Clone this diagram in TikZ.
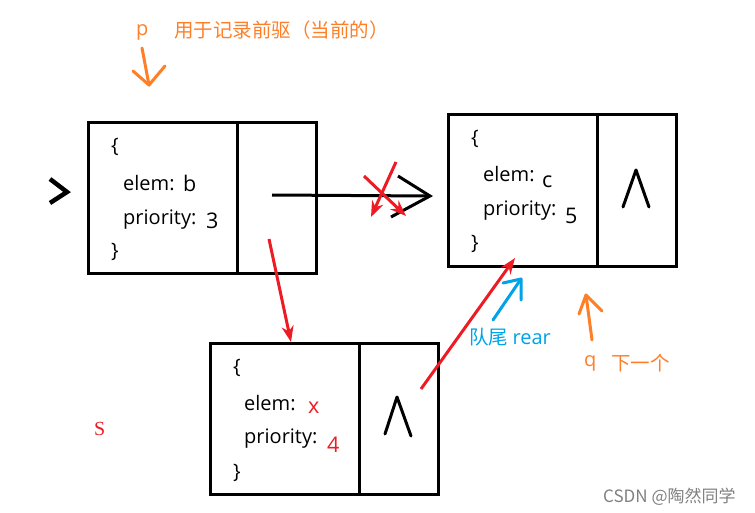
\documentclass[tikz,border=0pt]{standalone}
\usepackage{fontspec}
\setmainfont{Open Sans}
\newfontfamily\cjk{Noto Sans CJK SC}
\newfontfamily\serifS{Liberation Serif}
\usetikzlibrary{arrows.meta}
\definecolor{pred}{HTML}{ED1C24}
\definecolor{porange}{HTML}{FF7F27}
\definecolor{pblue}{HTML}{00A2E8}
\begin{document}
\begin{tikzpicture}[x=1pt,y=-1pt,
  box/.style={draw=black,line width=3pt,minimum width=228pt,minimum height=150pt,inner sep=0pt},
  txt/.style={anchor=base west,inner sep=0pt,font=\fontsize{20}{20}\selectfont},
  val/.style={anchor=base west,inner sep=0pt,font=\fontsize{21.5}{21.5}\selectfont},
  ctxt/.style={anchor=base west,inner sep=0pt,font=\cjk\fontsize{19.5}{19.5}\selectfont},
  redarr/.style={draw=pred,line width=3pt,-{Stealth[length=16pt,width=12pt]}},
  hand/.style={line width=3pt,line cap=round,line join=round}]
\useasboundingbox (0,0) rectangle (755,513);

% boxes
\node[box] (B) at (202,198) {};
\node[box,minimum height=151pt] (C) at (562,190.5) {};
\node[box,minimum height=151pt] (X) at (324,418.5) {};
\draw[line width=3pt] (237,123) -- (237,273);
\draw[line width=3pt] (597,115) -- (597,266);
\draw[line width=3pt] (359,343) -- (359,494);

% box B text
\node[txt] (b1) at (111,153) {\{};
\node[txt] (b2) at (123,191) {elem:};
\node[val] (b3) at (183,192) {b};
\node[txt] (b4) at (123,225) {priority:};
\node[val] (b5) at (206,229) {3};
\node[txt] (b6) at (111,258) {\}};

% box C text
\node[txt] (c1) at (471,145) {\{};
\node[txt] (c2) at (483,182) {elem:};
\node[val] (c3) at (542,188) {c};
\node[txt] (c4) at (483,216) {priority:};
\node[val] (c5) at (565,224) {5};
\node[txt] (c6) at (471,250) {\}};

% box X text
\node[txt] (x1) at (233,373) {\{};
\node[txt] (x2) at (244,410) {elem:};
\node[val,text=pred] (x3) at (308,413) {x};
\node[txt] (x4) at (244,443) {priority:};
\node[val,text=pred] (x5) at (327,452) {4};
\node[txt] (x6) at (233,478) {\}};

% null marks
\draw[hand] (623,207) -- (636,170) -- (649,207);
\draw[hand] (385,434) -- (397,397) -- (411,436);

% left >
\draw[line width=4.5pt,line join=miter] (50,179) -- (67,192) -- (50,203);

% black arrow
\coordinate (kS) at (272,195);
\coordinate (kT) at (430,196);
\coordinate (kU) at (398,176);
\coordinate (kD) at (391,217);
\draw[line width=3pt] (kS) -- (kT);
\draw[line width=3pt] (kU) -- (kT) -- (kD);

% red arrows
\coordinate (r1s) at (396,162); \coordinate (r1e) at (371,217);
\coordinate (r2s) at (364,176); \coordinate (r2e) at (406,216);
\coordinate (r3s) at (269,239); \coordinate (r3e) at (291,342);
\coordinate (r4s) at (421,389); \coordinate (r4e) at (515,258);
\draw[redarr] (r1s) -- (r1e);
\draw[redarr] (r2s) -- (r2e);
\draw[redarr] (r3s) -- (r3e);
\draw[redarr] (r4s) -- (r4e);

% p arrow and label
\node[anchor=base west,inner sep=0pt,text=porange,font=\fontsize{20}{20}\selectfont] (p) at (136,36) {p};
\node[ctxt,text=porange] (pl) at (174,38) {用于记录前驱（当前的）};
\coordinate (pA) at (142,48); \coordinate (pT) at (149,85);
\coordinate (pL) at (133,71); \coordinate (pR) at (165,66);
\draw[hand,porange] (pA) -- (pT);
\draw[hand,porange] (pL) -- (pT) -- (pR);

% rear arrow and label
\coordinate (bS) at (493,320); \coordinate (bT) at (521,279);
\coordinate (bL) at (503,283); \coordinate (bR) at (521,300);
\draw[hand,pblue] (bS) -- (bT);
\draw[hand,pblue] (bL) -- (bT) -- (bR);
\node[ctxt,text=pblue] (rear) at (469,344) {队尾 {\fontspec{Open Sans}\fontsize{20}{20}\selectfont rear}};

% q arrow and label
\coordinate (qS) at (592,340); \coordinate (qT) at (586,295);
\coordinate (qL) at (579,314); \coordinate (qR) at (602,311);
\draw[hand,porange] (qS) -- (qT);
\draw[hand,porange] (qL) -- (qT) -- (qR);
\node[anchor=base west,inner sep=0pt,text=porange,font=\fontsize{20}{20}\selectfont] (q) at (584,366) {q};
\node[ctxt,text=porange] (ql) at (611,370) {下一个};

% S
\node[anchor=base west,inner sep=0pt,text=pred,font=\serifS\fontsize{20}{20}\selectfont] (S) at (94,435) {S};

% watermark
\node[anchor=base west,inner sep=0pt,text=black!50,font=\cjk\fontsize{17}{17}\selectfont] (wm) at (603,502) {CSDN @陶然同学};
\end{tikzpicture}
\end{document}
